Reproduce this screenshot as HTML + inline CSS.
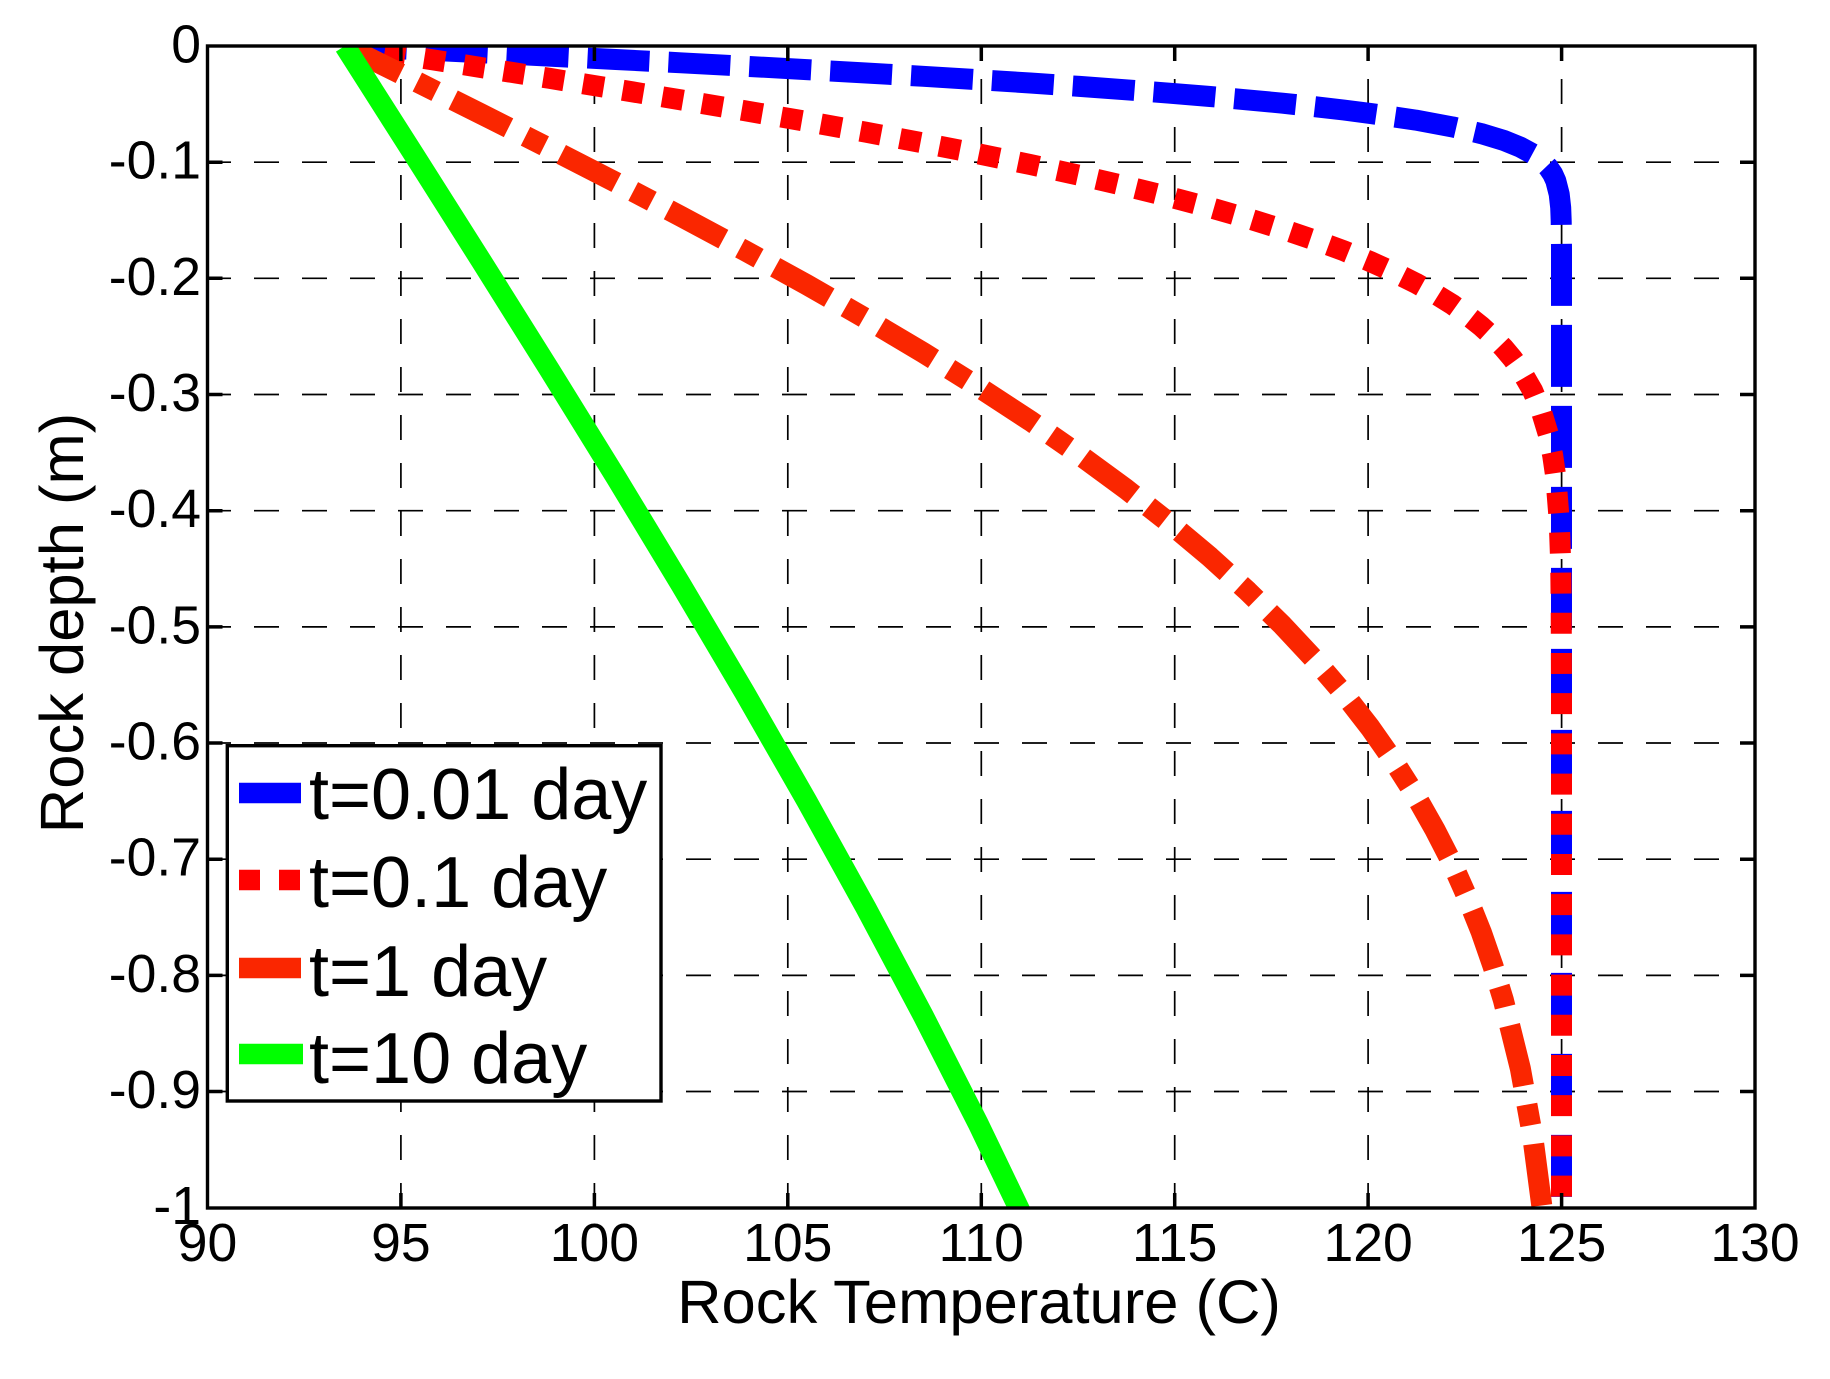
<!DOCTYPE html>
<html>
<head>
<meta charset="utf-8">
<style>
html,body{margin:0;padding:0;background:#fff;}
svg{display:block;}
</style>
</head>
<body>
<svg width="1830" height="1379" viewBox="0 0 1830 1379" xmlns="http://www.w3.org/2000/svg" font-family="'Liberation Sans', Arial, sans-serif">
<rect x="0" y="0" width="1830" height="1379" fill="#ffffff"/>
<defs>
<clipPath id="ax"><rect x="207.5" y="46" width="1547.5" height="1162"/></clipPath>
</defs>

<!-- grid lines -->
<g stroke="#000" stroke-width="1.7" fill="none" stroke-dasharray="25 23">
<path d="M206,162.2H1755"/>
<path d="M206,278.3H1755"/>
<path d="M206,394.5H1755"/>
<path d="M206,510.7H1755"/>
<path d="M206,626.9H1755"/>
<path d="M206,743H1755"/>
<path d="M206,859.2H1755"/>
<path d="M206,975.4H1755"/>
<path d="M206,1091.5H1755"/>
<path d="M400.9,1208V46"/>
<path d="M594.4,1208V46"/>
<path d="M787.8,1208V46"/>
<path d="M981.3,1208V46"/>
<path d="M1174.7,1208V46"/>
<path d="M1368.1,1208V46"/>
<path d="M1561.6,1208V46"/>
</g>

<!-- curves -->
<g clip-path="url(#ax)" fill="none" stroke-width="21" stroke-linecap="butt" stroke-linejoin="round">
<path stroke="#0000ff" stroke-dasharray="62 19" d="M344.8,46 L413.2,49.4 L481.6,52.7 L549,56.1 L615.8,59.5 L681,62.8 L744.6,66.2 L806.4,69.6 L866,73 L923.3,76.3 L978.1,79.7 L1030.2,83 L1079.5,86.4 L1126,89.8 L1169.5,93.2 L1210.1,96.5 L1247.7,99.9 L1282.5,103.2 L1314.4,106.6 L1343.6,110 L1370.1,113.4 L1415.7,120.1 L1452.4,126.9 L1481.2,133.6 L1503.4,140.3 L1520.3,147.1 L1532.7,153.8 L1541.7,160.5 L1548.2,167.3 L1552.7,174 L1555.8,180.8 L1559.2,194.2 L1560.7,207.7 L1561.2,221.2 L1561.5,248.1 L1561.5,1210"/>
<path stroke="#ff0000" stroke-dasharray="21 19.2" d="M344.8,46 L413.4,56.8 L481.6,67.6 L549.2,78.3 L615.8,89.1 L681,99.9 L744.6,110.7 L806.4,121.4 L866,132.2 L923.3,143 L978.1,153.8 L1030.2,164.5 L1079.5,175.3 L1126,186.1 L1169.5,196.9 L1210.1,207.6 L1247.7,218.4 L1282.5,229.2 L1314.4,240 L1343.6,250.7 L1370.1,261.5 L1394,272.3 L1415.7,283.1 L1435,293.8 L1452.4,304.6 L1467.5,315.4 L1481.2,326.2 L1493,337 L1503.4,347.7 L1512.5,358.5 L1520.3,369.3 L1532.7,390.8 L1541.7,412.4 L1548.2,433.9 L1552.7,455.5 L1555.8,477 L1559.2,520.1 L1560.7,563.2 L1561.2,606.3 L1561.5,692.5 L1561.5,1210"/>
<path stroke="#fa2600" stroke-dasharray="62 19 21 19" d="M344.8,46 L413.4,80.1 L481.6,114.2 L549.2,148.2 L615.8,182.3 L681,216.4 L744.6,250.5 L806.4,284.5 L866,318.6 L923.3,352.7 L978.1,386.8 L1030.2,420.8 L1079.5,454.9 L1126,489 L1169.5,523.1 L1210.1,557.1 L1247.7,591.2 L1282.5,625.3 L1314.4,659.4 L1343.6,693.4 L1370.1,727.5 L1394,761.6 L1415.7,795.7 L1435,829.8 L1452.4,863.8 L1467.5,897.9 L1481.2,932 L1493,966 L1503.4,1000.1 L1520.3,1068.3 L1532.7,1136.4 L1542.1,1208 L1543,1215"/>
<path stroke="#00ff00" d="M344.8,46 L413.4,153.8 L481.6,261.5 L549.2,369.3 L615.8,477 L681,584.8 L744.6,692.5 L806.4,800.3 L866,908 L923.3,1015.8 L978.1,1123.5 L1018.7,1208 L1022,1215"/>
</g>

<!-- axes box -->
<rect x="207.5" y="46" width="1547.5" height="1162" fill="none" stroke="#000" stroke-width="3.4"/>

<!-- ticks -->
<g stroke="#000" stroke-width="3.5" fill="none">
<path d="M400.9,1208v-15M594.4,1208v-15M787.8,1208v-15M981.3,1208v-15M1174.7,1208v-15M1368.1,1208v-15M1561.6,1208v-15"/>
<path d="M400.9,46v15M594.4,46v15M787.8,46v15M981.3,46v15M1174.7,46v15M1368.1,46v15M1561.6,46v15"/>
<path d="M207.5,162.2h15M207.5,278.3h15M207.5,394.5h15M207.5,510.7h15M207.5,626.9h15M207.5,743h15M207.5,859.2h15M207.5,975.4h15M207.5,1091.5h15"/>
<path d="M1755,162.2h-15M1755,278.3h-15M1755,394.5h-15M1755,510.7h-15M1755,626.9h-15M1755,743h-15M1755,859.2h-15M1755,975.4h-15M1755,1091.5h-15"/>
</g>

<!-- y tick labels -->
<g font-size="53.5" text-anchor="end" fill="#000">
<text x="201" y="62.5">0</text>
<text x="201" y="178.7">-0.1</text>
<text x="201" y="294.8">-0.2</text>
<text x="201" y="411">-0.3</text>
<text x="201" y="527.2">-0.4</text>
<text x="201" y="643.4">-0.5</text>
<text x="201" y="759.5">-0.6</text>
<text x="201" y="875.7">-0.7</text>
<text x="201" y="991.9">-0.8</text>
<text x="201" y="1108">-0.9</text>
<text x="201" y="1224.2">-1</text>
</g>

<!-- x tick labels -->
<g font-size="53.5" text-anchor="middle" fill="#000">
<text x="207.5" y="1261">90</text>
<text x="400.9" y="1261">95</text>
<text x="594.4" y="1261">100</text>
<text x="787.8" y="1261">105</text>
<text x="981.3" y="1261">110</text>
<text x="1174.7" y="1261">115</text>
<text x="1368.1" y="1261">120</text>
<text x="1561.6" y="1261">125</text>
<text x="1755" y="1261">130</text>
</g>

<!-- axis labels -->
<text x="979" y="1323" font-size="61.5" text-anchor="middle" fill="#000">Rock Temperature (C)</text>
<text transform="translate(83,623) rotate(-90)" font-size="61.5" text-anchor="middle" fill="#000">Rock depth (m)</text>

<!-- legend -->
<rect x="227.3" y="745.7" width="433.7" height="355.3" fill="#ffffff" stroke="#000" stroke-width="3.4"/>
<g fill="none" stroke-width="20.5" stroke-linecap="butt">
<path stroke="#0000ff" d="M239,793H301"/>
<path stroke="#ff0000" stroke-dasharray="21 19" d="M239,880H301"/>
<path stroke="#fa2600" d="M239,968H301"/>
<path stroke="#00ff00" d="M239,1054H303"/>
</g>
<g font-size="72" fill="#000">
<text x="309" y="819">t=0.01 day</text>
<text x="309" y="907">t=0.1 day</text>
<text x="309" y="996">t=1 day</text>
<text x="309" y="1083">t=10 day</text>
</g>
</svg>
</body>
</html>
